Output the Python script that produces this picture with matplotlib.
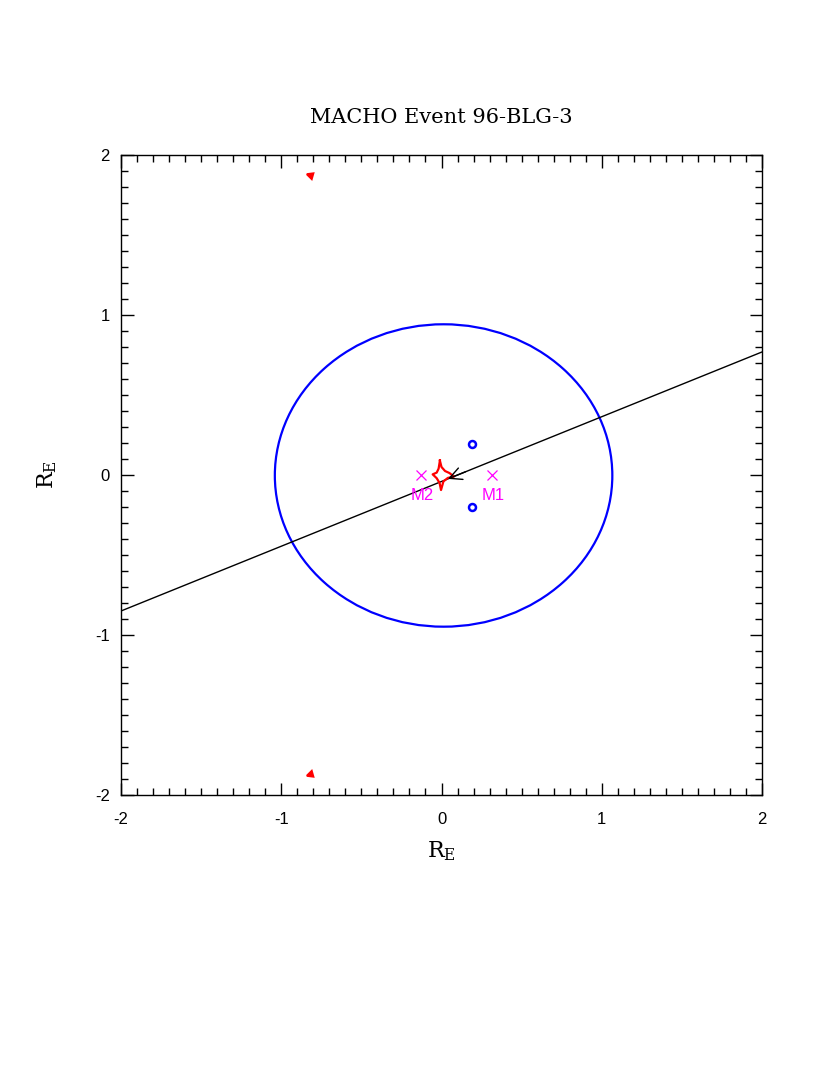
import numpy as np
import matplotlib
matplotlib.use('Agg')
import matplotlib.pyplot as plt
from matplotlib.patches import Ellipse
from matplotlib.ticker import MultipleLocator

plt.rcParams['mathtext.fontset'] = 'dejavuserif'

# lens masses (x, y) and labels
mass_x = [0.314, -0.128]
mass_y = [0.0, 0.0]
mass_labels = ['M1', 'M2']

# image positions (blue open circles)
img_x = [0.19, 0.19]
img_y = [0.195, -0.2]

# critical curve (oval): centre, full width, full height
crit_centre = (0.013, -0.003)
crit_width = 2.106
crit_height = 1.89

# central caustic
caus_x = [-0.01, 0.0, 0.022, 0.05, 0.078, 0.04, 0.012, -0.003, -0.012, -0.03,
          -0.055, -0.03, -0.018, -0.01]
caus_y = [0.09, 0.05, 0.025, 0.012, -0.01, -0.018, -0.04, -0.094, -0.05, -0.02,
          0.004, 0.015, 0.04, 0.09]

# small planetary caustics (triangles)
tri_up_x = [-0.84, -0.80, -0.81, -0.84]
tri_up_y = [1.88, 1.885, 1.85, 1.88]
tri_dn_x = [-0.84, -0.80, -0.81, -0.84]
tri_dn_y = [-1.88, -1.885, -1.85, -1.88]

# source trajectory end points
traj_x = [-2.0, 2.0]
traj_y = [-0.85, 0.769]

ticks = [-2, -1, 0, 1, 2]
tick_labels = ['-2', '-1', '0', '1', '2']

fig = plt.figure(figsize=(8.3, 10.75), dpi=100)
ax = fig.add_axes([121 / 830, 280 / 1075, 641 / 830, 640 / 1075])

ax.plot(traj_x, traj_y, color='black', lw=1)

# arrow head on the trajectory, pointing towards -x
slope = (traj_y[1] - traj_y[0]) / (traj_x[1] - traj_x[0])
tip_x = 0.04
tip_y = traj_y[0] + slope * (tip_x - traj_x[0])
ax.annotate('', xy=(tip_x, tip_y), xytext=(tip_x + 0.11, tip_y + 0.11 * slope),
            arrowprops=dict(arrowstyle='->', color='black', lw=1,
                            mutation_scale=22, shrinkA=0, shrinkB=0))

ax.add_patch(Ellipse(crit_centre, crit_width, crit_height, fill=False,
                     edgecolor='blue', lw=1.6))

ax.plot(caus_x, caus_y, color='red', lw=1.6)
ax.fill(tri_up_x, tri_up_y, color='red', lw=1.5)
ax.fill(tri_dn_x, tri_dn_y, color='red', lw=1.5)

ax.plot(img_x, img_y, 'o', mfc='none', mec='blue', mew=1.8, ms=5)

ax.plot(mass_x, mass_y, 'x', color='magenta', ms=7, mew=0.9)
for mx, my, lab in zip(mass_x, mass_y, mass_labels):
    ax.text(mx + 0.01, my - 0.13, lab, color='magenta', fontsize=12,
            ha='center', va='center', family='Liberation Sans')

ax.set_xlim(-2, 2)
ax.set_ylim(-2, 2)
ax.set_xticks(ticks)
ax.set_yticks(ticks)
ax.set_xticklabels(tick_labels, family='Liberation Sans')
ax.set_yticklabels(tick_labels, family='Liberation Sans')
ax.xaxis.set_minor_locator(MultipleLocator(0.1))
ax.yaxis.set_minor_locator(MultipleLocator(0.1))
ax.tick_params(which='both', direction='in', top=True, right=True,
               labelsize=12, width=1)
ax.tick_params(axis='x', pad=12)
ax.tick_params(axis='y', pad=8)
ax.tick_params(which='major', length=9)
ax.tick_params(which='minor', length=5)
for s in ax.spines.values():
    s.set_linewidth(1)

ax.set_xlabel(r'$\mathrm{R_E}$', fontsize=16, labelpad=9)
ax.set_ylabel(r'$\mathrm{R_E}$', fontsize=16, labelpad=26, rotation=90)
ax.set_title('MACHO Event 96-BLG-3', fontsize=15, family='DejaVu Serif',
             pad=23)

fig.savefig('out.png', dpi=100)
